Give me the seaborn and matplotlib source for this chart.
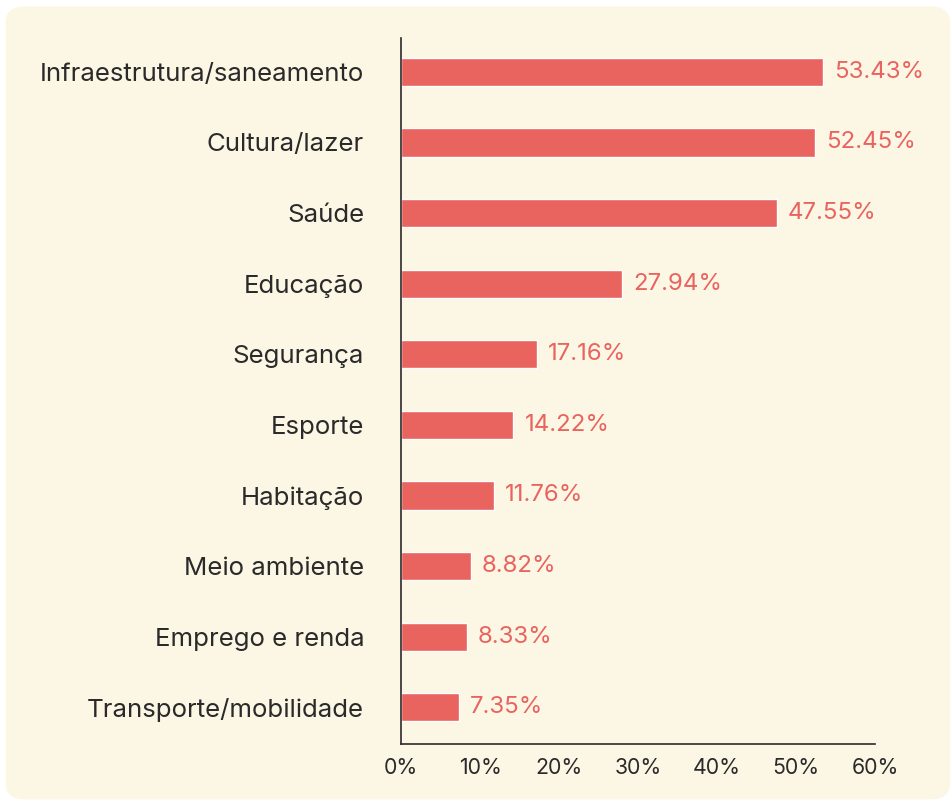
import seaborn as sns
import matplotlib.pyplot as plt
import pandas as pd
from matplotlib.patches import FancyBboxPatch

categories = [
    "Infraestrutura/saneamento",
    "Cultura/lazer",
    "Saúde",
    "Educação",
    "Segurança",
    "Esporte",
    "Habitação",
    "Meio ambiente",
    "Emprego e renda",
    "Transporte/mobilidade",
]
values = [53.43, 52.45, 47.55, 27.94, 17.16, 14.22, 11.76, 8.82, 8.33, 7.35]
x_ticks = [0, 10, 20, 30, 40, 50, 60]

BAR = "#E9635F"
BG = "#FCF6E4"
INK = "#2A2A2A"


def main():
    df = pd.DataFrame({"category": categories, "value": values})

    sns.set_style("white")
    plt.rcParams["font.family"] = ["Inter", "DejaVu Sans"]

    fig = plt.figure(figsize=(9.53, 8.05), dpi=100)
    fig.patch.set_facecolor("white")
    bg = FancyBboxPatch((0.006, 0.007), 0.991, 0.985,
                        boxstyle="round,pad=0,rounding_size=0.02",
                        transform=fig.transFigure, facecolor=BG,
                        edgecolor="none", zorder=-10)
    fig.patches.append(bg)

    ax = fig.add_axes([0.4208, 0.0758, 0.4974, 0.877])
    ax.set_facecolor("none")
    sns.barplot(data=df, x="value", y="category", color=BAR, width=0.4,
                saturation=1, ax=ax)

    for i, v in enumerate(values):
        ax.text(v + 1.4, i, f"{v:.2f}%", va="center", ha="left",
                color=BAR, fontsize=17.3)

    ax.set_xlim(0, 60)
    ax.set_ylim(9.52, -0.48)
    ax.set_xticks(x_ticks)
    ax.set_xticklabels([f"{t}%" for t in x_ticks])
    ax.set_xlabel("")
    ax.set_ylabel("")
    ax.tick_params(axis="x", length=0, pad=10, labelsize=15.3, colors=INK)
    ax.tick_params(axis="y", length=0, pad=26.5, labelsize=18.6, colors=INK)
    for s in ["top", "right"]:
        ax.spines[s].set_visible(False)
    for s in ["left", "bottom"]:
        ax.spines[s].set_color(INK)
        ax.spines[s].set_linewidth(1.2)

    fig.savefig("out.png", dpi=100, facecolor="white")


if __name__ == '__main__':
    main()
